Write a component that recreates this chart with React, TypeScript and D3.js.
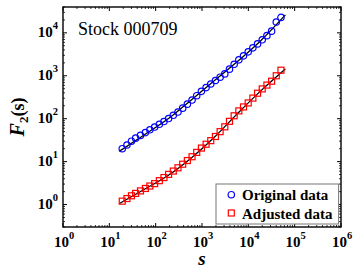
import React from "react";
import * as d3 from "d3";

const WIDTH = 354;
const HEIGHT = 270;
const MARGIN = { top: 7, right: 13, bottom: 43, left: 63 };

// window sizes s
const S = [19, 24, 30, 37, 47, 60, 75, 95, 120, 151, 190, 240, 303, 383, 483, 610, 769, 971, 1225, 1545, 1950, 2460, 3105, 3917, 4943, 6237, 7870, 9931, 12531, 15812, 19953, 25177, 31769, 40087, 50582];
// F2(s) of the original series
const ORIGINAL = [20, 24.4, 29.9, 35.2, 40.8, 47.4, 55.1, 63.9, 74.1, 85.9, 100.7, 120, 143, 176, 218, 272, 343, 434, 530, 644, 776, 927, 1107, 1426, 1849, 2350, 2911, 3606, 4467, 5534, 6887, 8610, 10960, 17800, 22900];
// F2(s) of the adjusted series
const ADJUSTED = [1.2, 1.38, 1.6, 1.82, 2.08, 2.37, 2.7, 3.07, 3.6, 4.26, 5.05, 6.03, 7.18, 8.71, 10.6, 13, 16.4, 20.7, 25.4, 30.8, 38.5, 49.9, 64.7, 86.9, 117, 152, 188, 233, 302, 392, 494, 607, 746, 1000, 1349];

// fitted curves
const FIT_S = [16.4, 56.2, 199.5, 562, 1778, 5623, 17783, 63096];
const FIT_ORIGINAL = [17.4, 41.7, 104.7, 263, 741, 2089, 6310, 26300];
const FIT_ADJUSTED = [1.05, 2.24, 5.01, 11.7, 35.5, 126, 427, 1445];

const X_TICKS = [1, 10, 100, 1e3, 1e4, 1e5, 1e6];
const Y_TICKS = [1, 10, 100, 1e3, 1e4];
const TITLE = "Stock 000709";
const LEGEND = ["Original data", "Adjusted data"];

const FONT = "'Liberation Serif', 'Times New Roman', serif";

export default function App() {
  const boundsWidth = WIDTH - MARGIN.left - MARGIN.right;
  const boundsHeight = HEIGHT - MARGIN.top - MARGIN.bottom;

  const xScale = d3.scaleLog().domain([1, 1e6]).range([0, boundsWidth]);
  const yScale = d3.scaleLog().domain([0.3, 4e4]).range([boundsHeight, 0]);

  // minor ticks: 2..9 times each decade
  const xMinor: number[] = [];
  for (let e = 0; e < 6; e++) for (let m = 2; m < 10; m++) xMinor.push(m * 10 ** e);
  const yMinor: number[] = [];
  for (let e = -1; e < 5; e++)
    for (let m = 2; m < 10; m++) {
      const v = m * 10 ** e;
      if (v >= 0.3 && v <= 4e4) yMinor.push(v);
    }

  const fitLine = d3
    .line<[number, number]>()
    .x((d) => xScale(d[0]))
    .y((d) => yScale(d[1]))
    .curve(d3.curveMonotoneX);

  const fitOrig = FIT_S.map((s, i) => [s, FIT_ORIGINAL[i]] as [number, number]);
  const fitAdj = FIT_S.map((s, i) => [s, FIT_ADJUSTED[i]] as [number, number]);

  const sq = 6;
  const r = 3.2;

  return (
    <svg
      width={WIDTH}
      height={HEIGHT}
      style={{ position: "absolute", left: 0, top: 0, background: "#fff" }}
      fontFamily={FONT}
    >
      <g transform={`translate(${MARGIN.left},${MARGIN.top})`}>
        {/* fit lines */}
        <path d={fitLine(fitOrig) ?? ""} fill="none" stroke="#000" strokeWidth={1.3} />
        <path d={fitLine(fitAdj) ?? ""} fill="none" stroke="#000" strokeWidth={1.3} />

        {/* markers */}
        {S.map((s, i) => (
          <circle
            key={`o${i}`}
            cx={xScale(s)}
            cy={yScale(ORIGINAL[i])}
            r={r}
            fill="none"
            stroke="#0000ff"
            strokeWidth={1.2}
          />
        ))}
        {S.map((s, i) => (
          <rect
            key={`a${i}`}
            x={xScale(s) - sq / 2}
            y={yScale(ADJUSTED[i]) - sq / 2}
            width={sq}
            height={sq}
            fill="none"
            stroke="#ff0000"
            strokeWidth={1.2}
          />
        ))}

        {/* ticks */}
        {X_TICKS.map((t) => (
          <g key={`xt${t}`}>
            <line x1={xScale(t)} x2={xScale(t)} y1={boundsHeight} y2={boundsHeight - 4} stroke="#000" />
            <line x1={xScale(t)} x2={xScale(t)} y1={0} y2={4} stroke="#000" />
          </g>
        ))}
        {xMinor.map((t) => (
          <g key={`xm${t}`}>
            <line x1={xScale(t)} x2={xScale(t)} y1={boundsHeight} y2={boundsHeight - 2} stroke="#000" strokeWidth={0.8} />
            <line x1={xScale(t)} x2={xScale(t)} y1={0} y2={2} stroke="#000" strokeWidth={0.8} />
          </g>
        ))}
        {Y_TICKS.map((t) => (
          <g key={`yt${t}`}>
            <line x1={0} x2={4} y1={yScale(t)} y2={yScale(t)} stroke="#000" />
            <line x1={boundsWidth} x2={boundsWidth - 4} y1={yScale(t)} y2={yScale(t)} stroke="#000" />
          </g>
        ))}
        {yMinor.map((t) => (
          <g key={`ym${t}`}>
            <line x1={0} x2={2} y1={yScale(t)} y2={yScale(t)} stroke="#000" strokeWidth={0.8} />
            <line x1={boundsWidth} x2={boundsWidth - 2} y1={yScale(t)} y2={yScale(t)} stroke="#000" strokeWidth={0.8} />
          </g>
        ))}

        {/* frame */}
        <rect x={0} y={0} width={boundsWidth} height={boundsHeight} fill="none" stroke="#000" strokeWidth={1.4} />

        {/* tick labels */}
        {X_TICKS.map((t) => (
          <text
            key={`xl${t}`}
            x={xScale(t) + 1}
            y={boundsHeight + 20}
            textAnchor="middle"
            fontWeight="bold"
            fontSize={15}
          >
            10
            <tspan dy={-8} fontSize={10.5}>
              {Math.round(Math.log10(t))}
            </tspan>
          </text>
        ))}
        {Y_TICKS.map((t) => (
          <text
            key={`yl${t}`}
            x={-5}
            y={yScale(t) + 4}
            textAnchor="end"
            fontWeight="bold"
            fontSize={15}
          >
            10
            <tspan dy={-8} fontSize={10.5}>
              {Math.round(Math.log10(t))}
            </tspan>
          </text>
        ))}

        {/* title */}
        <text x={15} y={28} fontSize={18}>
          {TITLE}
        </text>

        {/* legend */}
        <g transform={`translate(${boundsWidth - 125},${boundsHeight - 43})`}>
          <rect x={0} y={0} width={122.6} height={40} fill="#fff" stroke="#777" strokeWidth={1} />
          <circle cx={15.3} cy={10.7} r={r} fill="none" stroke="#0000ff" strokeWidth={1.2} />
          <rect x={15.3 - sq / 2} y={29 - sq / 2} width={sq} height={sq} fill="none" stroke="#ff0000" strokeWidth={1.2} />
          <text x={26} y={16.4} fontSize={15} fontWeight="bold">
            {LEGEND[0]}
          </text>
          <text x={26} y={34.7} fontSize={15} fontWeight="bold">
            {LEGEND[1]}
          </text>
        </g>
      </g>

      {/* axis titles */}
      <text
        x={MARGIN.left + boundsWidth / 2}
        y={265}
        textAnchor="middle"
        fontSize={19}
        fontWeight="bold"
        fontStyle="italic"
      >
        s
      </text>
      <text
        transform={`translate(24,${MARGIN.top + boundsHeight / 2}) rotate(-90)`}
        textAnchor="middle"
        fontWeight="bold"
        fontSize={18}
      >
        <tspan fontStyle="italic" fontSize={20}>F</tspan>
        <tspan dy={4} fontSize={13}>2</tspan>
        <tspan dy={-4}>(s)</tspan>
      </text>
    </svg>
  );
}
